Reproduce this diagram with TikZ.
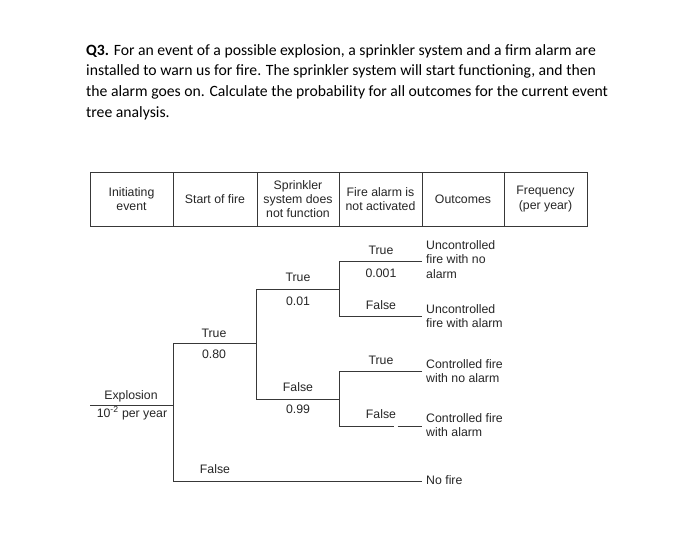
\documentclass[tikz,border=0pt]{standalone}
\usepackage{fontspec}
\setmainfont{Liberation Sans}
\newfontfamily\titlefont{Carlito}
\begin{document}
\begin{tikzpicture}[x=1pt,y=-1pt,
  tline/.style={draw=black!78, line width=0.9pt},
  ttl/.style={font=\titlefont\fontsize{15.7}{21}\selectfont, text=black, inner sep=0pt, anchor=base west},
  lbl/.style={font=\fontsize{12.3}{14.3}\selectfont, text=black!85, inner sep=0pt, anchor=base},
  outc/.style={lbl, anchor=base west},
  hdr/.style={font=\fontsize{12.3}{14.3}\selectfont, text=black!85, inner sep=0pt, align=center}]
\useasboundingbox (0,0) rectangle (700,552);
\fill[white] (0,0) rectangle (700,552);
% title
\node[ttl] (q1) at (86,55) {\textbf{Q3.} For an event of a possible explosion, a sprinkler system and a firm alarm are};
\node[ttl] (q2) at (86,75.8) {installed to warn us for fire. The sprinkler system will start functioning, and then};
\node[ttl] (q3) at (86,96.6) {the alarm goes on. Calculate the probability for all outcomes for the current event};
\node[ttl] (q4) at (86,117.4) {tree analysis.};
% header table
\draw[tline] (90,172) rectangle (587,226);
\foreach \x in {173,257,339,422,504} \draw[tline] (\x,172) -- (\x,226);
\node[hdr] (h1) at (131.5,199) {Initiating\\event};
\node[hdr] (h2) at (215,199) {Start of fire};
\node[hdr] (h3) at (298,199) {Sprinkler\\system does\\not function};
\node[hdr] (h4) at (380.5,199) {Fire alarm is\\not activated};
\node[hdr] (h5) at (463,199) {Outcomes};
\node[hdr] (h6) at (545.5,199) {Frequency\\(per year)};
% tree coordinates
\coordinate (e0) at (90,405);
\coordinate (j1) at (173,405);
\coordinate (t1) at (173,343); \coordinate (t1e) at (256,343);
\coordinate (f1) at (173,481); \coordinate (f1e) at (422,481);
\coordinate (t2) at (256,289); \coordinate (t2e) at (339,289);
\coordinate (f2) at (256,399); \coordinate (f2e) at (339,399);
\coordinate (t3a) at (339,261); \coordinate (t3ae) at (422,261);
\coordinate (f3a) at (339,316); \coordinate (f3ae) at (422,316);
\coordinate (t3b) at (339,371); \coordinate (t3be) at (422,371);
\coordinate (f3b) at (339,426); \coordinate (f3bm) at (393.5,426);
\coordinate (f3bn) at (397.5,426); \coordinate (f3be) at (422,426);
% tree lines
\draw[tline] (e0) -- (j1);
\draw[tline] (t1e) -- (t1) -- (f1) -- (f1e);
\draw[tline] (t2e) -- (t2) -- (f2) -- (f2e);
\draw[tline] (t3ae) -- (t3a) -- (f3a) -- (f3ae);
\draw[tline] (t3be) -- (t3b) -- (f3b) -- (f3bm);
\draw[tline] (f3bn) -- (f3be);
% tree labels
\node[lbl] (ex) at (131,399.5) {Explosion};
\node[lbl] (exf) at (132,417) {10\textsuperscript{-2} per year};
\node[lbl] (lt1) at (214,337.5) {True};
\node[lbl] (lp1) at (214,358.5) {0.80};
\node[lbl] (lf1) at (215,473.5) {False};
\node[lbl] (lt2) at (298,281.5) {True};
\node[lbl] (lp2) at (298,305.5) {0.01};
\node[lbl] (lf2) at (298,391.5) {False};
\node[lbl] (lq2) at (298,413.5) {0.99};
\node[lbl] (lt3a) at (381,254.5) {True};
\node[lbl] (lp3a) at (381,277.5) {0.001};
\node[lbl] (lf3a) at (381,309.5) {False};
\node[lbl] (lt3b) at (381,364.5) {True};
\node[lbl] (lf3b) at (381,418.5) {False};
% outcomes
\node[outc] (o1a) at (426,249) {Uncontrolled};
\node[outc] (o1b) at (426,263.5) {fire with no};
\node[outc] (o1c) at (426,278) {alarm};
\node[outc] (o2a) at (426,313.3) {Uncontrolled};
\node[outc] (o2b) at (426,327.6) {fire with alarm};
\node[outc] (o3a) at (426,368.3) {Controlled fire};
\node[outc] (o3b) at (426,382.6) {with no alarm};
\node[outc] (o4a) at (426,422.3) {Controlled fire};
\node[outc] (o4b) at (426,436.6) {with alarm};
\node[outc] (o5) at (426,484.5) {No fire};
\end{tikzpicture}
\end{document}
